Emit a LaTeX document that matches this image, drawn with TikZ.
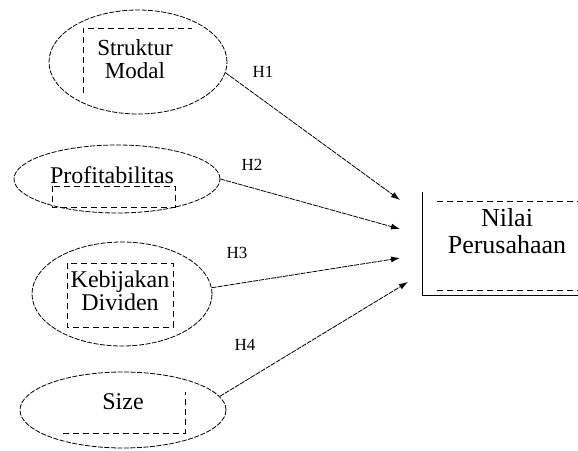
\documentclass[tikz,border=0pt]{standalone}
\usepackage{fontspec}
\setmainfont{Liberation Serif}
\usetikzlibrary{shapes.geometric,arrows.meta}
\begin{document}
\begin{tikzpicture}[x=1pt,y=-1pt,
 ell/.style={draw, ellipse, line width=0.8pt, dash pattern=on 5pt off 1.5pt, inner sep=0},
 inbox/.style={line width=0.9pt, dash pattern=on 6pt off 4pt},
 lbl/.style={font=\fontsize{24}{22}\selectfont, align=center, inner sep=0},
 hyp/.style={font=\fontsize{17}{19}\selectfont, inner sep=0},
 arr/.style={line width=0.8pt, dash pattern=on 5pt off 1pt, -{Latex[length=9pt,width=6pt]}}
]
\useasboundingbox (0,0) rectangle (578,450);
% ellipses
\node[ell, minimum width=178pt, minimum height=104pt] (e1) at (138,62) {};
\node[ell, minimum width=206pt, minimum height=68pt] (e2) at (117,179) {};
\node[ell, minimum width=180pt, minimum height=104pt] (e3) at (122,294) {};
\node[ell, minimum width=206pt, minimum height=76pt] (e4) at (123,410) {};
% inner dashed boxes
\draw[inbox] (83,93) -- (83,28) -- (192,28);
\draw[inbox] (52,186) rectangle (175,207);
\draw[inbox] (67,263) rectangle (173,327);
\draw[inbox] (63,433) -- (185,433) -- (185,392);
% texts
\node[lbl, font=\fontsize{23}{23}\selectfont] (t1) at (135,59) {Struktur\\Modal};
\node[lbl] (t2) at (112,175) {Profitabilitas};
\node[lbl, font=\fontsize{24}{20}\selectfont] (t3) at (120,291) {Kebijakan\\Dividen};
\node[lbl] (t4) at (123,402) {Size};
% target
\draw[line width=0.9pt] (422,192) -- (422,295) -- (578,295);
\draw[inbox] (437,201) -- (578,201);
\draw[inbox] (437,290) -- (578,290);
\node[lbl, font=\fontsize{26}{27}\selectfont] (tg) at (507,231) {Nilai\\Perusahaan};
% arrow tips
\coordinate (p1) at (400,200);
\coordinate (p2) at (400,229);
\coordinate (p3) at (400,258);
\coordinate (p4) at (408,282);
\draw[arr] (e1.-7) -- (p1);
\draw[arr] (e2.0) -- (p2);
\draw[arr] (e3.4) -- (p3);
\draw[arr] (e4.8) -- (p4);
% hypothesis labels
\node[hyp] (h1) at (263,72) {H1};
\node[hyp] (h2) at (252,165) {H2};
\node[hyp] (h3) at (237,253) {H3};
\node[hyp] (h4) at (245,345) {H4};
\end{tikzpicture}
\end{document}
